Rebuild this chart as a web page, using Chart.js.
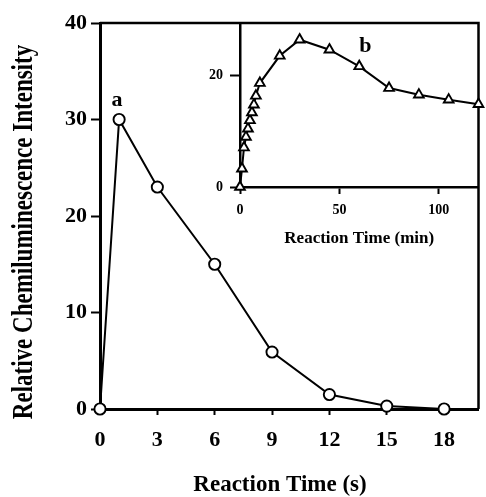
<!DOCTYPE html>
<html><head><meta charset="utf-8">
<script src="https://cdn.jsdelivr.net/npm/chart.js@4.4.1/dist/chart.umd.min.js"></script>
<style>
html,body{margin:0;padding:0;background:#fff;}
#wrap{position:relative;width:486px;height:497px;overflow:hidden;}
canvas{position:absolute;top:0;}
</style>
</head><body>
<div id="wrap">
<canvas id="main" width="486" height="497" style="left:0"></canvas>
<canvas id="inset" width="296" height="250" style="left:190px"></canvas>
</div>
<script>
// ---- data ----
const MAIN_TIME_S = [0, 1, 3, 6, 9, 12, 15, 18];
const MAIN_INTENSITY = [0, 30, 23, 15, 5.9, 1.5, 0.3, 0];
const MAIN_X_TICKS = [0, 3, 6, 9, 12, 15, 18];
const MAIN_Y_TICKS = [0, 10, 20, 30, 40];

const INSET_TIME_MIN = [0, 1, 2, 3, 4, 5, 6, 7, 8, 10, 20, 30, 45, 60, 75, 90, 105, 120];
const INSET_INTENSITY = [0, 3.3, 7.1, 9, 10.5, 12, 13.4, 14.8, 16.4, 18.7, 23.6, 26.5, 24.7, 21.7, 17.8, 16.6, 15.7, 14.9];
const INSET_X_TICKS = [0, 50, 100];
const INSET_Y_TICKS = [0, 20];

const MAIN_X_TITLE = 'Reaction Time (s)';
const MAIN_Y_TITLE = 'Relative Chemiluminescence Intensity';
const INSET_X_TITLE = 'Reaction Time (min)';
const MAIN_CURVE_LABEL = 'a';
const INSET_CURVE_LABEL = 'b';

const SERIF = "'Liberation Serif', 'Times New Roman', serif";

const framePlugin = {
  id: 'frame',
  afterDraw(chart) {
    const {ctx, chartArea: a} = chart;
    ctx.save();
    ctx.strokeStyle = '#000';
    ctx.lineWidth = 2.5;
    ctx.beginPath();
    ctx.moveTo(a.left, a.top);
    ctx.lineTo(a.right, a.top);
    ctx.lineTo(a.right, a.bottom);
    ctx.stroke();
    ctx.restore();
  }
};

// axis titles of the main chart, drawn as real text
const titlesPlugin = {
  id: 'titles',
  afterDraw(chart) {
    const ctx = chart.ctx;
    ctx.save();
    ctx.fillStyle = '#000';
    ctx.textAlign = 'center';
    // x title
    ctx.font = "bold 23px " + SERIF;
    ctx.textBaseline = 'alphabetic';
    ctx.fillText(MAIN_X_TITLE, 280, 491);
    // y title (slightly tall glyphs like the scan)
    ctx.translate(24, 232);
    ctx.rotate(-Math.PI / 2);
    ctx.scale(1, 1.3);
    ctx.textBaseline = 'middle';
    ctx.fillText(MAIN_Y_TITLE, 0, 0);
    ctx.restore();
  }
};

function curveLabel(text, index, dx, dy) {
  return {
    id: 'curveLabel',
    afterDatasetsDraw(chart) {
      const pt = chart.getDatasetMeta(0).data[index];
      const ctx = chart.ctx;
      ctx.save();
      ctx.fillStyle = '#000';
      ctx.font = "bold 22px " + SERIF;
      ctx.textAlign = 'center';
      ctx.textBaseline = 'middle';
      ctx.fillText(text, pt.x + dx, pt.y + dy);
      ctx.restore();
    }
  };
}

function toPoints(xs, ys) { return xs.map((x, i) => ({x: x, y: ys[i]})); }

// ---- main chart ----
new Chart(document.getElementById('main'), {
  type: 'line',
  data: {
    datasets: [{
      data: toPoints(MAIN_TIME_S, MAIN_INTENSITY),
      borderColor: '#000',
      borderWidth: 2,
      pointStyle: 'circle',
      pointRadius: 5.6,
      pointBorderWidth: 1.9,
      pointBackgroundColor: '#fff',
      pointBorderColor: '#000',
      tension: 0,
      clip: false
    }]
  },
  options: {
    responsive: false,
    animation: false,
    events: [],
    layout: {padding: {top: 23, right: 4, left: 0, bottom: 0}},
    plugins: {legend: {display: false}, tooltip: {enabled: false}},
    scales: {
      x: {
        type: 'linear', min: 0, max: 19.8,
        afterBuildTicks: s => { s.ticks = MAIN_X_TICKS.map(v => ({value: v})); },
        afterFit: s => { s.height = 88; },
        grid: {display: true, drawOnChartArea: false, drawTicks: true, tickLength: 6, tickWidth: 2, color: '#000', tickColor: '#000'},
        border: {display: true, color: '#000', width: 3},
        ticks: {color: '#000', font: {family: SERIF, size: 22, weight: 'bold'}, padding: 12, maxRotation: 0, autoSkip: false},
        title: {display: false}
      },
      y: {
        type: 'linear', min: 0, max: 40,
        afterBuildTicks: s => { s.ticks = MAIN_Y_TICKS.map(v => ({value: v})); },
        afterFit: s => { s.width = 100; },
        grid: {display: true, drawOnChartArea: false, drawTicks: true, tickLength: 9, tickWidth: 2, color: '#000', tickColor: '#000'},
        border: {display: true, color: '#000', width: 3},
        ticks: {color: '#000', font: {family: SERIF, size: 22, weight: 'bold'}, padding: 4, autoSkip: false},
        title: {display: false}
      }
    }
  },
  plugins: [framePlugin, titlesPlugin, curveLabel(MAIN_CURVE_LABEL, 1, -2, -19)]
});

// ---- inset chart ----
new Chart(document.getElementById('inset'), {
  type: 'line',
  data: {
    datasets: [{
      data: toPoints(INSET_TIME_MIN, INSET_INTENSITY),
      borderColor: '#000',
      borderWidth: 2,
      pointStyle: 'triangle',
      pointRadius: 5.6,
      pointBorderWidth: 1.9,
      pointBackgroundColor: '#fff',
      pointBorderColor: '#000',
      tension: 0,
      clip: false
    }]
  },
  options: {
    responsive: false,
    animation: false,
    events: [],
    layout: {padding: {top: 23, right: 4, left: 0, bottom: 0}},
    plugins: {legend: {display: false}, tooltip: {enabled: false}},
    scales: {
      x: {
        type: 'linear', min: 0, max: 120,
        afterBuildTicks: s => { s.ticks = INSET_X_TICKS.map(v => ({value: v})); },
        afterFit: s => { s.height = 63; },
        grid: {display: true, drawOnChartArea: false, drawTicks: true, tickLength: 7, tickWidth: 2, color: '#000', tickColor: '#000'},
        border: {display: true, color: '#000', width: 2.5},
        ticks: {color: '#000', font: {family: SERIF, size: 14, weight: 'bold'}, padding: 8, maxRotation: 0, autoSkip: false},
        title: {display: true, text: INSET_X_TITLE, color: '#000', font: {family: SERIF, size: 17, weight: 'bold'}, padding: {top: 0, bottom: 1}}
      },
      y: {
        type: 'linear', min: 0, max: 29.5,
        afterBuildTicks: s => { s.ticks = INSET_Y_TICKS.map(v => ({value: v})); },
        afterFit: s => { s.width = 50; },
        grid: {display: true, drawOnChartArea: false, drawTicks: true, tickLength: 10, tickWidth: 2, color: '#000', tickColor: '#000'},
        border: {display: true, color: '#000', width: 2.5},
        ticks: {color: '#000', font: {family: SERIF, size: 14, weight: 'bold'}, padding: 7, autoSkip: false},
        title: {display: false}
      }
    }
  },
  plugins: [curveLabel(INSET_CURVE_LABEL, 13, 6, -20)]
});
</script>
</body></html>
